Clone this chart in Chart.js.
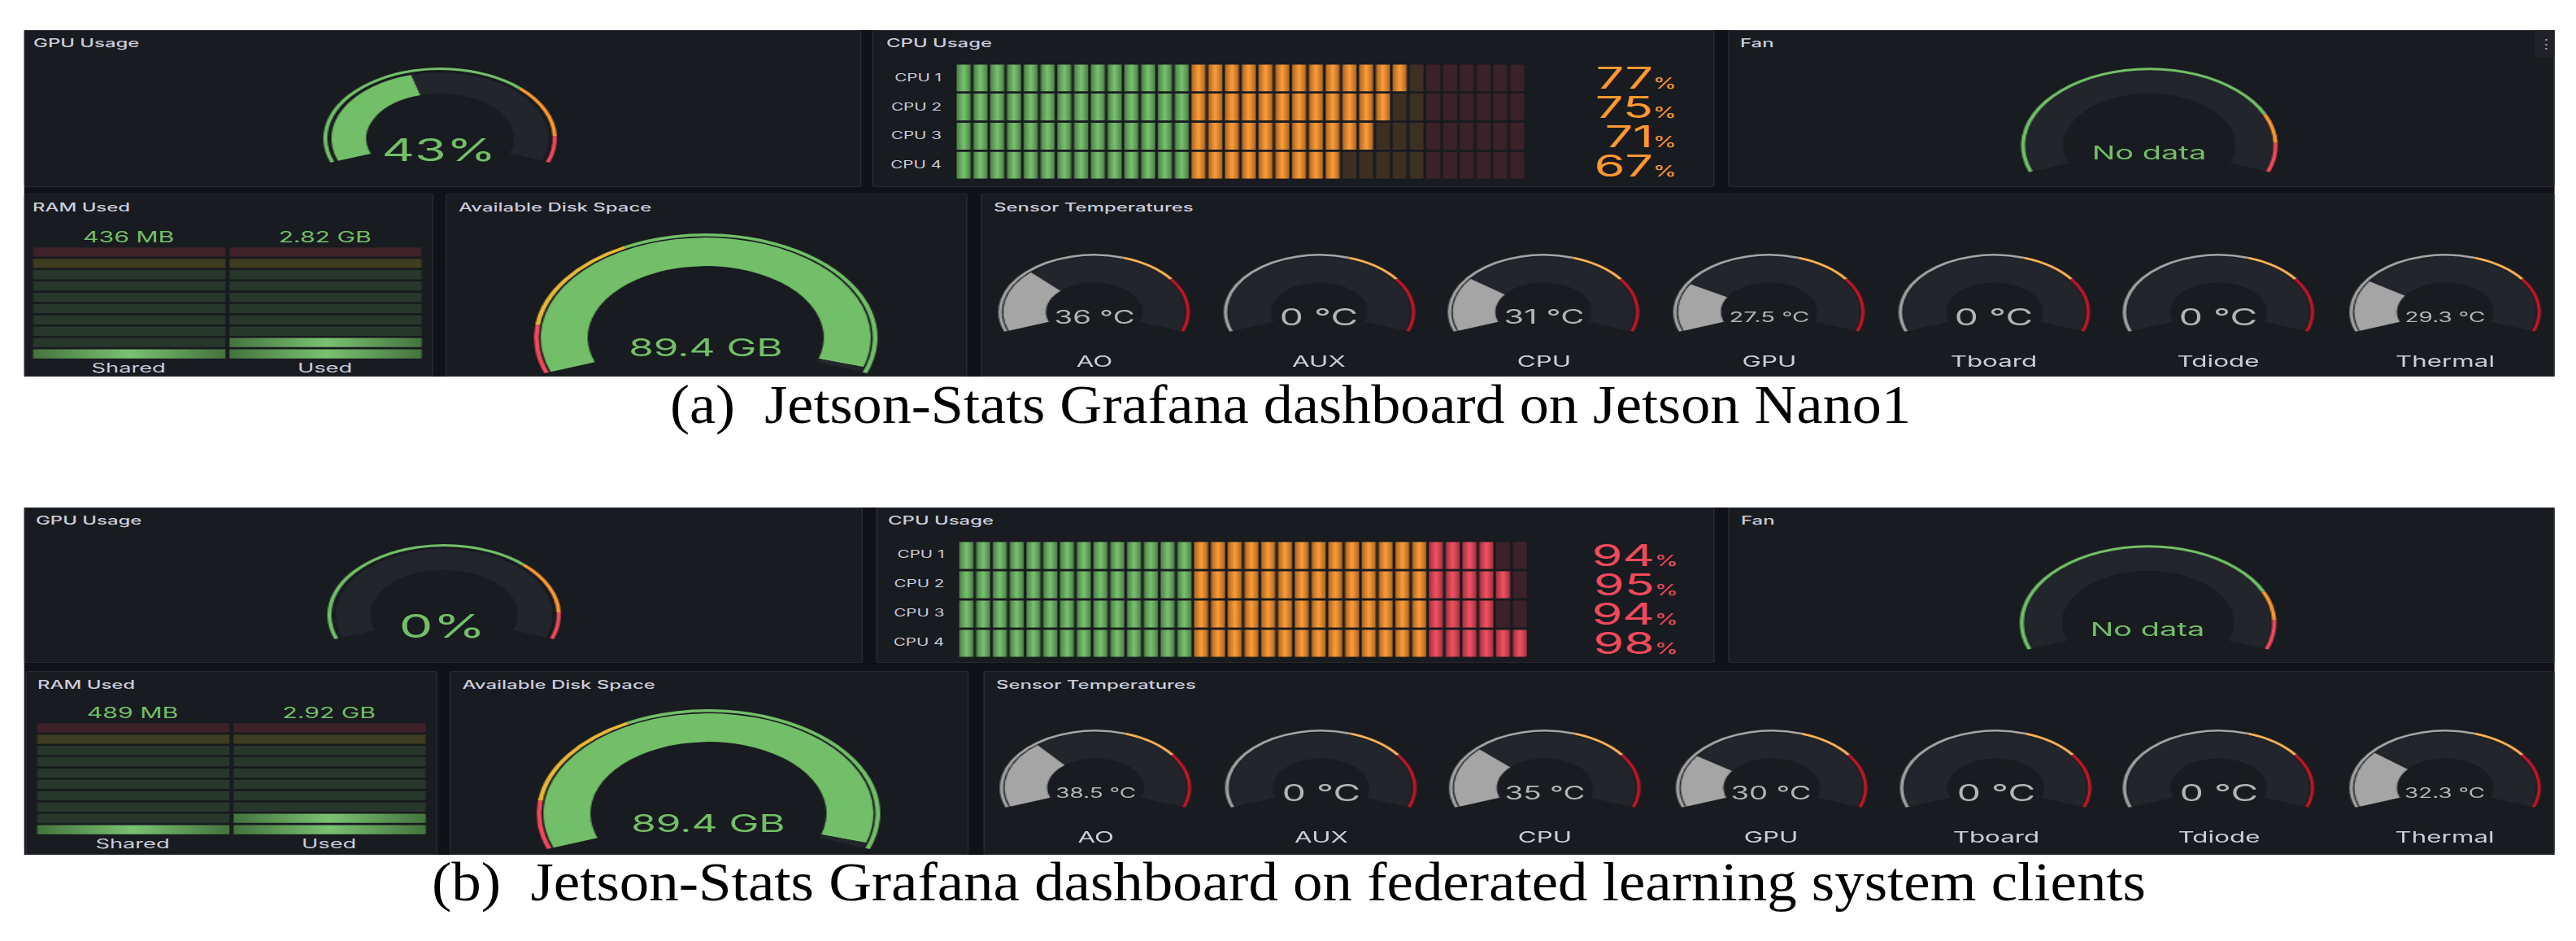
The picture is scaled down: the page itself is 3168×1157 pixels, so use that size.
<!DOCTYPE html>
<html>
<head>
<meta charset="utf-8">
<script src="https://cdn.jsdelivr.net/npm/chart.js@4.4.1/dist/chart.umd.min.js"></script>
<style>
html, body { margin: 0; padding: 0; background: #fff; }
body { width: 3168px; height: 1157px; overflow: hidden; position: relative; }
#stage { position: absolute; left: 0; top: 0; width: 1920px; height: 1157px; transform: scaleX(1.65); transform-origin: 0 0; }
.cap { position: absolute; white-space: pre; font-family: 'Liberation Serif', serif; color: #000; line-height: 1; transform-origin: 0 0; }
</style>
</head>
<body>
<div id="stage"></div>
<div id="capA" class="cap">(a)  Jetson-Stats Grafana dashboard on Jetson Nano1</div>
<div id="capB" class="cap">(b)  Jetson-Stats Grafana dashboard on federated learning system clients</div>
<script>
const cpuLabels = ['CPU 1', 'CPU 2', 'CPU 3', 'CPU 4'];
const cpuNano = [77, 75, 71, 67];
const cpuClients = [94, 95, 94, 98];
const gpuNano = 43;
const gpuClients = 0;
const ramLabels = ['Shared', 'Used'];
const ramNano = [0.436, 2.82];          // GB
const ramClients = [0.489, 2.92];
const ramTextNano = ['436 MB', '2.82 GB'];
const ramTextClients = ['489 MB', '2.92 GB'];
const diskNano = 89.4;
const diskClients = 89.4;
const sensorLabels = ['AO', 'AUX', 'CPU', 'GPU', 'Tboard', 'Tdiode', 'Thermal'];
const tempNano = [36, 0, 31, 27.5, 0, 0, 29.3];
const tempClients = [38.5, 0, 35, 30, 0, 0, 32.3];

// ---- grafana thresholds ----
const gpuSteps = [70, 90];
const fanSteps = [80, 90];
const diskSteps = [11.2, 33.6];
const diskMax = 90.6;
const tempSteps = [70, 90];
const tempMax = 120;
const cpuSteps = [40, 80];
const cpuCells = 34;
const ramSteps = [80, 90];
const ramMax = 16;
const ramCells = 10;

// the source figure is stretched horizontally
const S = 1.65;
const stage = document.getElementById('stage');

const DASH = '#111217', PANEL = '#181b1f', TRACK = '#22252b', BORDER = '#262930', TITLE = '#ccccdc';
const GREEN = '#73bf69', ORANGE = '#ff9830', RED = '#f2495c', YELLOW = '#fade2a', GOLD = '#eab839';
const GREY = '#a5a5a5', LORANGE = '#ffb357', DRED = '#c4162a';
const CPU_COLORS = [GREEN, ORANGE, RED];
const RAM_COLORS = [GREEN, YELLOW, RED];

function hex(c) { const n = parseInt(c.slice(1), 16); return [n >> 16 & 255, n >> 8 & 255, n & 255]; }
function mix(a, b, t) {
  const x = hex(a), y = hex(b);
  return 'rgb(' + x.map((v, i) => Math.round(v + (y[i] - v) * t)).join(',') + ')';
}
function level(v, steps) { return v >= steps[1] ? 2 : v >= steps[0] ? 1 : 0; }

function el(css) {
  const e = document.createElement('div');
  e.style.cssText = css;
  stage.appendChild(e);
  return e;
}
function rect(x0, y0, x1, y1, css) {
  return el(`position:absolute;left:${x0 / S}px;top:${y0}px;width:${(x1 - x0) / S}px;height:${y1 - y0}px;box-sizing:border-box;${css || ''}`);
}
function label(html, x, base, size, color, align, weight) {
  const tx = align === 'center' ? 'translateX(-50%)' : align === 'right' ? 'translateX(-100%)' : 'none';
  const e = el(`position:absolute;left:${x / S}px;top:${base - 0.864 * size}px;font-family:Inter,sans-serif;font-size:${size}px;line-height:${size}px;font-weight:${weight || 400};color:${color};white-space:nowrap;transform:${tx}`);
  e.innerHTML = html;
  return e;
}
function canvasAt(x, y, w, h) {
  const c = document.createElement('canvas');
  c.width = Math.round(w); c.height = Math.round(h);
  c.style.cssText = `position:absolute;left:${x}px;top:${y}px;width:${Math.round(w)}px;height:${Math.round(h)}px`;
  stage.appendChild(c);
  return c;
}
function glow(ctx, a, b, color) {
  if (!isFinite(a) || !isFinite(b) || a === b) return color;
  const g = ctx.createLinearGradient(a, 0, b, 0);
  g.addColorStop(0, mix(color, '#000000', 0.4));
  g.addColorStop(0.5, mix(color, '#ffffff', 0.05));
  g.addColorStop(1, mix(color, '#000000', 0.4));
  return g;
}

const quiet = { legend: { display: false }, tooltip: { enabled: false } };

// grafana style gauge: thin threshold ring + value track
function gauge(g) {
  const W = Math.ceil(2 * g.R) + 6, H = Math.ceil(1.342 * g.R) + 6;
  const cv = canvasAt(g.cx / S - W / 2, g.cy - H / 2 - 0.329 * g.R, W, H);
  const ringData = [g.steps[0], g.steps[1] - g.steps[0], g.max - g.steps[1]];
  new Chart(cv, {
    type: 'doughnut',
    data: {
      datasets: [
        { data: ringData, backgroundColor: g.colors, borderWidth: 0, weight: g.ring },
        { data: [1], backgroundColor: ['rgba(0,0,0,0)'], borderWidth: 0, weight: g.gap },
        { data: [g.value, g.max - g.value], backgroundColor: [g.fill, TRACK], borderWidth: 0, weight: g.R - g.ring - g.gap - g.inner }
      ]
    },
    options: {
      responsive: false, animation: false, events: [],
      rotation: -110, circumference: 220,
      radius: g.R, cutout: (g.inner / g.R * 100) + '%',
      plugins: quiet
    }
  });
}

function cpuBars(L, values) {
  const [x0, x1, y0, pitch] = L.cpuCells;
  const cv = canvasAt(x0 / S, y0, (x1 - x0) / S, pitch * 4);
  const datasets = [];
  for (let k = 0; k < cpuCells; k++) {
    const start = k / cpuCells * 100;
    const base = CPU_COLORS[level(start, cpuSteps)];
    datasets.push({
      data: values.map(() => 1),
      backgroundColor: c => {
        if (start >= values[c.dataIndex]) return mix(base, PANEL, 0.84);
        const xs = c.chart.scales.x;
        if (!xs) return base;
        return glow(c.chart.ctx, xs.getPixelForValue(k), xs.getPixelForValue(k + 1), base);
      },
      borderColor: PANEL,
      borderWidth: { left: 1, right: 1, top: 0, bottom: 0 },
      borderSkipped: false,
      borderRadius: 2,
      barPercentage: 0.936,
      categoryPercentage: 1
    });
  }
  new Chart(cv, {
    type: 'bar',
    data: { labels: cpuLabels, datasets },
    options: {
      indexAxis: 'y', responsive: false, animation: false, events: [],
      scales: {
        x: { display: false, stacked: true, min: 0, max: cpuCells },
        y: { display: false, stacked: true }
      },
      plugins: quiet
    }
  });
  cpuLabels.forEach((name, i) => {
    const mid = y0 + (i + 0.5) * pitch;
    label(name, L.cpuLabelRight, mid + 4.5, 12.5, TITLE, 'right');
    const col = CPU_COLORS[level(values[i], cpuSteps)];
    label(values[i] + '<span style="font-size:18px">%</span>', L.cpuValueRight, mid + 13.3, 37, col, 'right');
  });
}

function ramBars(L, values, texts) {
  const [x0, x1, y0, y1] = L.ram;
  const cv = canvasAt(x0 / S, y0, (x1 - x0) / S, y1 - y0);
  const datasets = [];
  for (let k = 0; k < ramCells; k++) {
    const start = k / ramCells * 100;
    const base = RAM_COLORS[level(start, ramSteps)];
    datasets.push({
      data: values.map(() => 1),
      backgroundColor: c => {
        if (start >= values[c.dataIndex] / ramMax * 100) return mix(base, PANEL, 0.83);
        const xs = c.chart.scales.x;
        if (!xs) return base;
        const cx = xs.getPixelForValue(c.dataIndex);
        const half = xs.width / values.length * 0.981 / 2;
        return glow(c.chart.ctx, cx - half, cx + half, base);
      },
      borderColor: PANEL,
      borderWidth: { left: 0, right: 0, top: 1.3, bottom: 1.3 },
      borderSkipped: false,
      borderRadius: 2,
      barPercentage: 0.981,
      categoryPercentage: 1
    });
  }
  new Chart(cv, {
    type: 'bar',
    data: { labels: ramLabels, datasets },
    options: {
      responsive: false, animation: false, events: [],
      scales: {
        x: { display: false, stacked: true },
        y: { display: false, stacked: true, min: 0, max: ramCells }
      },
      plugins: quiet
    }
  });
  const colW = (x1 - x0) / ramLabels.length;
  ramLabels.forEach((name, i) => {
    const cx = x0 + colW * (i + 0.5);
    label(texts[i], cx, L.ramValueBase, 18.3, GREEN, 'center');
    label(name, cx, L.ramLabelBase, 16.5, TITLE, 'center');
  });
}

const measure = document.createElement('canvas').getContext('2d');
function fitFont(str, maxW, maxF) {
  measure.font = '100px Inter';
  return Math.min(maxF, maxW * 100 / measure.measureText(str).width);
}

function dashboard(L, d) {
  rect(L.bg[0], L.bg[1], L.bg[2], L.bg[3], `background:${DASH}`);
  Object.values(L.panels).forEach(p => rect(p[0], p[1], p[2], p[3], `background:${PANEL};border:1px solid ${BORDER};border-radius:2px`));
  const names = { gpu: 'GPU Usage', cpu: 'CPU Usage', fan: 'Fan', ram: 'RAM Used', disk: 'Available Disk Space', sensor: 'Sensor Temperatures' };
  Object.keys(names).forEach(k => label(names[k], L.titles[k][0], L.titles[k][1], 14.5, TITLE, 'left', 500));
  if (L.menu) {
    rect(3117, L.bg[1], 3142, L.bg[1] + 33, 'background:#202227');
    label('&#8942;', 3131, L.bg[1] + 22, 15, '#8e8e96', 'center');
  }

  // GPU gauge
  const [gx, gy, gR] = L.gpuGauge;
  gauge({ cx: gx, cy: gy, R: gR, ring: 3, gap: 3, inner: 55, steps: gpuSteps, max: 100,
    colors: [GREEN, ORANGE, RED], value: d.gpu, fill: CPU_COLORS[level(d.gpu, gpuSteps)] });
  label(d.gpu + '%', gx - 2, L.gpuTextBase, d.gpu >= 10 ? 38 : 40, GREEN, 'center');

  // Fan gauge (no data)
  const [fx, fy, fR] = L.fanGauge;
  gauge({ cx: fx, cy: fy, R: fR, ring: 3, gap: 0.5, inner: 64, steps: fanSteps, max: 100,
    colors: [GREEN, ORANGE, RED], value: 0, fill: GREEN });
  label('No data', fx, L.fanTextBase, 23, GREEN, 'center');

  // CPU led bars
  cpuBars(L, d.cpu);

  // RAM led bars
  ramBars(L, d.ram, d.ramText);

  // Disk gauge
  const [dx, dy, dR] = L.diskGauge;
  gauge({ cx: dx, cy: dy, R: dR, ring: 3.5, gap: 1.5, inner: 88, steps: diskSteps, max: diskMax,
    colors: [RED, GOLD, GREEN], value: d.disk, fill: [RED, GOLD, GREEN][level(d.disk, diskSteps)] });
  label(d.disk + ' GB', dx, L.diskTextBase, 30, GREEN, 'center');

  // sensor temperature gauges
  sensorLabels.forEach((name, i) => {
    const cx = L.sensorX[i], cy = L.sensorCy, v = d.temp[i];
    gauge({ cx, cy, R: 71.3, ring: 2.5, gap: 1, inner: 36, steps: tempSteps, max: tempMax,
      colors: [GREY, LORANGE, DRED], value: v, fill: [GREY, LORANGE, DRED][level(v, tempSteps)] });
    const txt = v + ' °C';
    const f = fitFont(txt, 60, 28);
    label(txt, cx, cy + 7 + 0.3635 * f, f, '#b4b4b4', 'center');
    label(name, cx, L.sensorLabelBase, 19, TITLE, 'center');
  });
}

const layoutNano = {
  bg: [29, 37, 3142, 463],
  panels: { gpu: [29, 37, 1059, 230], cpu: [1073, 37, 2108, 230], fan: [2125, 37, 3142, 230],
            ram: [30, 238, 533, 463], disk: [548, 238, 1190, 463], sensor: [1206, 238, 3142, 463] },
  titles: { gpu: [41, 59], cpu: [1090, 59], fan: [2140, 59], ram: [40, 261], disk: [564, 261], sensor: [1222, 261] },
  menu: true,
  gpuGauge: [542, 170.3, 87], gpuTextBase: 198,
  fanGauge: [2643, 179, 95.6], fanTextBase: 196.7,
  diskGauge: [868, 414.7, 128], diskTextBase: 438.3,
  cpuCells: [1175.4, 1876.4, 78.15, 35.8], cpuLabelRight: 1158, cpuValueRight: 2062,
  ram: [37.5, 520.3, 302.7, 442], ramValueBase: 298.3, ramLabelBase: 458,
  sensorX: [1346, 1622, 1899, 2176, 2452, 2728, 3007], sensorCy: 383, sensorLabelBase: 451.5
};

const layoutClients = {
  bg: [29, 624, 3142, 1051],
  panels: { gpu: [30, 624, 1061, 815], cpu: [1077, 623.5, 2109, 815], fan: [2126, 623.5, 3142, 815],
            ram: [30.6, 825, 538, 1051], disk: [552.4, 825, 1192, 1051], sensor: [1209, 825, 3142, 1051] },
  titles: { gpu: [44, 646], cpu: [1092, 646], fan: [2141, 646], ram: [46, 848], disk: [568.5, 848], sensor: [1225, 848] },
  menu: false,
  gpuGauge: [546, 756.5, 87], gpuTextBase: 785,
  fanGauge: [2641, 765.5, 95.6], fanTextBase: 783.2,
  diskGauge: [871, 1000.3, 128], diskTextBase: 1023.3,
  cpuCells: [1178.7, 1879.7, 664.8, 35.9], cpuLabelRight: 1161.4, cpuValueRight: 2064,
  ram: [42.2, 525.5, 888.4, 1027], ramValueBase: 883.3, ramLabelBase: 1043.3,
  sensorX: [1347.7, 1625, 1900, 2178, 2455, 2729, 3006.6], sensorCy: 968, sensorLabelBase: 1036.7
};

dashboard(layoutNano, { cpu: cpuNano, gpu: gpuNano, ram: ramNano, ramText: ramTextNano, disk: diskNano, temp: tempNano });
dashboard(layoutClients, { cpu: cpuClients, gpu: gpuClients, ram: ramClients, ramText: ramTextClients, disk: diskClients, temp: tempClients });

function caption(id, x0, x1, base, size) {
  const e = document.getElementById(id);
  e.style.fontSize = size + 'px';
  e.style.left = x0 + 'px';
  e.style.top = (base - 0.8375 * size) + 'px';
  const w = e.getBoundingClientRect().width;
  e.style.transform = `scaleX(${(x1 - x0) / w})`;
}
caption('capA', 824, 2350, 520, 68);
caption('capB', 531, 2639, 1107, 68);
</script>
</body>
</html>
